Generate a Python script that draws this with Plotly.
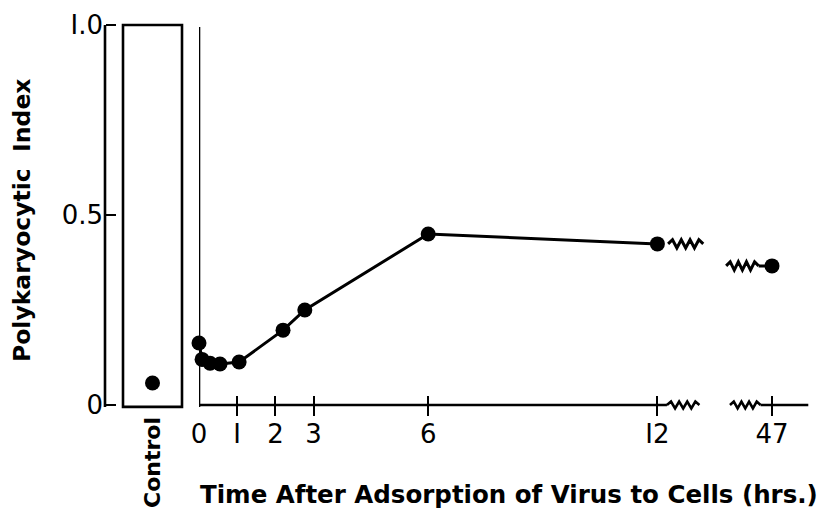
import plotly.graph_objects as go

# ---- data ----
hours = [0, 0.08, 0.29, 0.55, 1.05, 2.2, 2.77, 6, 12]
index_vals = [0.163, 0.12, 0.11, 0.108, 0.113, 0.197, 0.25, 0.45, 0.424]
late_hours = [47]
late_index = [0.366]
control_val = [0.058]
x_tickvals = [0, 1, 2, 3, 6, 12]
x_ticktext = ["0", "I", "2", "3", "6", "I2"]
late_tickvals = [47]
late_ticktext = ["47"]
y_tickvals = [0, 0.5, 1.0]
y_ticktext = ["0", "0.5", "I.0"]

# page has an 8px body margin; figure fills the rest of the 827x519 window
OFF = 8
W, H = 827 - 2 * OFF, 519 - 2 * OFF
PXH = 38.2      # pixels per hour on main axis
PXY = 380.0     # pixels per index unit
Y0PX = 405.0    # window pixel row of index 0
YMIN, YMAX = -0.03, 1.01

def px(x):
    return (x - OFF) / W

def py(y):
    return 1 - (y - OFF) / H

ydom = [py(Y0PX - YMIN * PXY), py(Y0PX - YMAX * PXY)]
main_l, main_r = 199, 712
late_l, late_r = 712, 815
x_main_range = [0, (main_r - main_l) / PXH]
x_late_range = [47 - (772 - late_l) / PXH, 47 + (late_r - 772) / PXH]

def zigzag(x0, x1, y, n, amp):
    step = (x1 - x0) / (2 * n)
    pts = [(x0, y)]
    for i in range(1, 2 * n):
        pts.append((x0 + i * step, y + (amp if i % 2 else -amp)))
    pts.append((x1, y))
    return "M " + " L ".join(f"{a},{b}" for a, b in pts)

fig = go.Figure()
mk = dict(color="black", size=15)
fig.add_trace(go.Scatter(x=hours, y=index_vals, mode="lines+markers",
                         line=dict(color="black", width=3), marker=mk,
                         xaxis="x", yaxis="y", showlegend=False, cliponaxis=False))
fig.add_trace(go.Scatter(x=late_hours, y=late_index, mode="markers", marker=mk,
                         xaxis="x3", yaxis="y", showlegend=False, cliponaxis=False))
fig.add_trace(go.Scatter(x=[0.5], y=control_val, mode="markers", marker=mk,
                         xaxis="x2", yaxis="y", showlegend=False, cliponaxis=False))

lw = 2.6
shapes = []
# y axis line
shapes.append(dict(type="line", xref="paper", yref="y", x0=px(105), x1=px(105),
                   y0=-0.005, y1=1.0, line=dict(color="black", width=lw)))
# control box
shapes.append(dict(type="rect", xref="x2 domain", yref="y", x0=0, x1=1,
                   y0=-0.005, y1=1.0, line=dict(color="black", width=lw)))
# main vertical line
shapes.append(dict(type="line", xref="x", yref="y", x0=0, x1=0, y0=-0.005, y1=0.995,
                   line=dict(color="black", width=lw)))
# main bottom axis line with break zigzag
shapes.append(dict(type="line", xref="x", yref="y", x0=0, x1=12.25, y0=0, y1=0,
                   line=dict(color="black", width=lw)))
shapes.append(dict(type="path", xref="x", yref="y",
                   path=zigzag(12.25, 13.1, 0, 4, 0.009),
                   line=dict(color="black", width=lw)))
# late bottom axis
shapes.append(dict(type="path", xref="x3", yref="y",
                   path=zigzag(45.9, 46.7, 0, 4, 0.009),
                   line=dict(color="black", width=lw)))
shapes.append(dict(type="line", xref="x3", yref="y", x0=46.7, x1=47.95, y0=0, y1=0,
                   line=dict(color="black", width=lw)))
# data line break zigzags
shapes.append(dict(type="path", xref="x", yref="y",
                   path=zigzag(12.28, 13.2, index_vals[-1], 4, 0.011),
                   line=dict(color="black", width=3)))
shapes.append(dict(type="path", xref="x3", yref="y",
                   path=zigzag(45.8, 46.65, late_index[0], 4, 0.011),
                   line=dict(color="black", width=3)))
shapes.append(dict(type="line", xref="x3", yref="y", x0=46.65, x1=47,
                   y0=late_index[0], y1=late_index[0],
                   line=dict(color="black", width=3)))

tickfont = dict(family="DejaVu Sans", size=26, color="black")
common_x = dict(showgrid=False, zeroline=False, showline=False, anchor="y",
                ticks="inside", ticklen=20, tickwidth=2, tickcolor="black",
                tickfont=tickfont, ticklabelstandoff=0, fixedrange=True,
                automargin=False)

fig.update_layout(
    width=W, height=H, margin=dict(l=0, r=0, t=0, b=0, autoexpand=False),
    paper_bgcolor="white", plot_bgcolor="rgba(0,0,0,0)",
    xaxis=dict(domain=[px(main_l), px(main_r)], range=x_main_range,
               tickmode="array", tickvals=x_tickvals, ticktext=x_ticktext, **common_x),
    xaxis3=dict(domain=[px(late_l), px(late_r)], range=x_late_range,
                tickmode="array", tickvals=late_tickvals, ticktext=late_ticktext, **common_x),
    xaxis2=dict(domain=[px(123), px(182)], range=[0, 1], anchor="y",
                showgrid=False, zeroline=False, showline=False, showticklabels=False,
                ticks="", automargin=False),
    yaxis=dict(domain=ydom, range=[YMIN, YMAX], anchor="free", position=px(105),
               showgrid=False, zeroline=False, showline=False, automargin=False,
               ticks="inside", ticklen=10, tickwidth=2, tickcolor="black",
               tickmode="array", tickvals=y_tickvals, ticktext=y_ticktext,
               tickfont=tickfont, ticklabelstandoff=2),
    shapes=shapes,
    annotations=[
        dict(text="<b>Polykaryocytic  Index</b>", xref="paper", yref="paper",
             x=px(22), y=py(220), xanchor="center", yanchor="middle",
             textangle=-90, showarrow=False,
             font=dict(family="DejaVu Sans", size=23.5, color="black")),
        dict(text="<b>Control</b>", xref="paper", yref="paper",
             x=px(152), y=py(463), xanchor="center", yanchor="middle",
             textangle=-90, showarrow=False,
             font=dict(family="DejaVu Sans", size=22, color="black")),
        dict(text="<b>Time After Adsorption of Virus to Cells (hrs.)</b>",
             xref="paper", yref="paper", x=px(509), y=py(494),
             xanchor="center", yanchor="middle", showarrow=False,
             font=dict(family="DejaVu Sans", size=24.5, color="black")),
    ],
)
fig.write_html("out.html")
